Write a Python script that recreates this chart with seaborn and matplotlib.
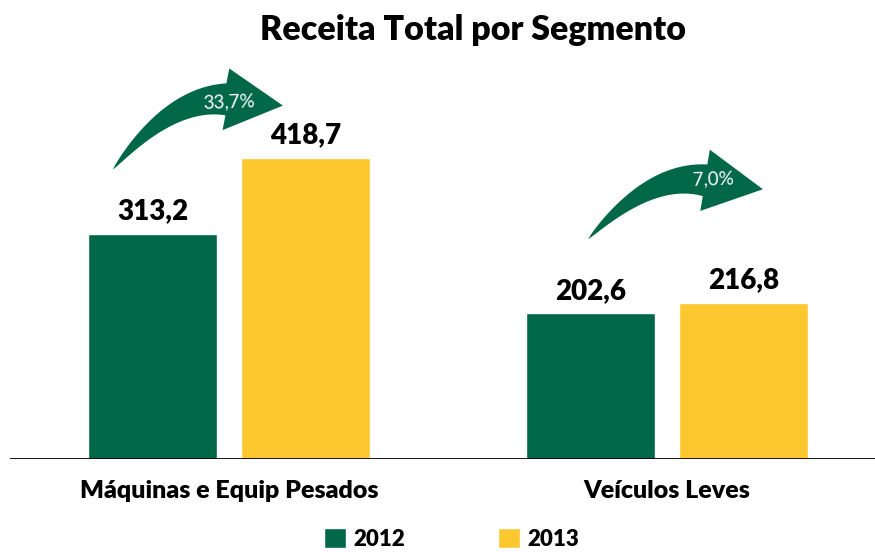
import matplotlib
matplotlib.use("Agg")
import matplotlib.pyplot as plt
import numpy as np
import pandas as pd
import seaborn as sns
from matplotlib.patches import Patch, Polygon

# data
segmentos = ["Máquinas e Equip Pesados", "Veículos Leves"]
anos = ["2012", "2013"]
receita_2012 = [313.2, 202.6]
receita_2013 = [418.7, 216.8]
variacao = ["33,7%", "7,0%"]

verde = "#006846"
amarelo = "#FDC72F"

df = pd.DataFrame({
    "segmento": segmentos * 2,
    "ano": [anos[0]] * 2 + [anos[1]] * 2,
    "receita": receita_2012 + receita_2013,
})

sns.set_style("white")
plt.rcParams["font.family"] = ["Lato", "DejaVu Sans"]
plt.rcParams["text.color"] = "black"
plt.rcParams["xtick.color"] = "black"

fig = plt.figure(figsize=(8.75, 5.52), dpi=100)
ax = fig.add_axes([10 / 875, 93 / 552, 865 / 875, 431 / 552])

sns.barplot(data=df, x="segmento", y="receita", hue="ano",
            palette=[verde, amarelo], width=0.698, gap=0.155,
            saturation=1, legend=False, ax=ax)

ax.set_xlim(-0.5, 1.475)
ax.set_ylim(0, 600)
sns.despine(ax=ax, left=True, bottom=True)
ax.set_yticks([])
ax.set_xlabel("")
ax.set_ylabel("")
ax.tick_params(axis="x", length=0, pad=15, labelsize=18)
for lbl in ax.get_xticklabels():
    lbl.set_fontweight("heavy")
ax.axhline(0, color="black", lw=2, zorder=5)

for cont in ax.containers:
    vals = cont.datavalues
    ax.bar_label(cont, labels=[f"{v:.1f}".replace(".", ",") for v in vals],
                 padding=7, fontsize=20, fontweight="heavy")

fig.text(473 / 875, 1 - 30 / 552, "Receita Total por Segmento",
         ha="center", va="center", fontsize=24.5, fontweight="heavy")


# curved growth arrows (tail, control, neck, tip in data coords)
def seta(tail, ctrl, neck, tip, texto, txt_pos):
    tr = ax.transData
    p0, c, n, t = [tr.transform(p) for p in (tail, ctrl, neck, tip)]
    s = np.linspace(0, 1, 40)
    curve = ((1 - s)[:, None] ** 2) * p0 + (2 * (1 - s) * s)[:, None] * c + (s ** 2)[:, None] * n
    deriv = 2 * (1 - s)[:, None] * (c - p0) + 2 * s[:, None] * (n - c)
    normal = np.column_stack([-deriv[:, 1], deriv[:, 0]])
    normal /= np.linalg.norm(normal, axis=1)[:, None]
    half = 16 * s ** 0.75
    upper = curve + normal * half[:, None]
    lower = curve - normal * half[:, None]
    d = t - n
    d /= np.linalg.norm(d)
    nn = np.array([-d[1], d[0]])
    head = [n + nn * 31, t, n - nn * 31]
    pts = np.vstack([upper, head, lower[::-1]])
    pts = tr.inverted().transform(pts)
    ax.add_patch(Polygon(pts, closed=True, facecolor=verde, edgecolor="none",
                         zorder=4, clip_on=False))
    ax.text(txt_pos[0], txt_pos[1], texto, color="white", fontsize=13.5,
            ha="center", va="center", zorder=6, rotation=2)


seta((-0.265, 403), (-0.135, 503), (-0.007, 500.7), (0.123, 492),
     variacao[0], (0.0, 497))
seta((0.820, 306), (0.961, 399), (1.087, 388), (1.219, 375.5),
     variacao[1], (1.105, 390))

handles = [Patch(facecolor=verde, label=anos[0]),
           Patch(facecolor=amarelo, label=anos[1])]
leg = fig.legend(handles=handles, loc="center",
                 bbox_to_anchor=(451.5 / 875, 1 - 539 / 552), ncol=2,
                 frameon=False, handlelength=1.0, handleheight=1.0,
                 handletextpad=0.3, columnspacing=4.2,
                 prop={"weight": "heavy", "size": 16})

fig.savefig("out.png", dpi=100)
